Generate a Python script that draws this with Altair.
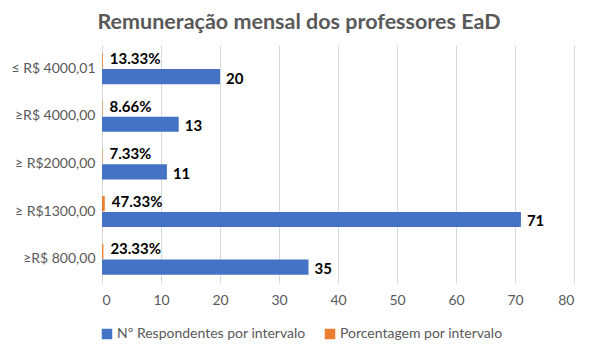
import altair as alt
import pandas as pd

categories = ["≤ R$ 4000,01", "≥R$ 4000,00", "≥ R$2000,00", "≥ R$1300,00", "≥R$ 800,00"]
respondentes = [20, 13, 11, 71, 35]
porcentagem = [0.1333, 0.0866, 0.0733, 0.4733, 0.2333]
series = ["Nº Respondentes por intervalo", "Porcentagem por intervalo"]
colors = ["#4472C4", "#ED7D31"]

rows = []
for c, r, p in zip(categories, respondentes, porcentagem):
    rows.append({"cat": c, "serie": series[0], "valor": r, "label": f"{r}"})
    rows.append({"cat": c, "serie": series[1], "valor": p, "label": f"{p*100:.2f}%"})
df = pd.DataFrame(rows)

FONT = "Lato"
GRAY = "#595959"

y = alt.Y("cat:N", sort=categories, title=None,
          scale=alt.Scale(paddingInner=0.35, paddingOuter=0.175),
          axis=alt.Axis(ticks=False, domain=False, labelFontSize=14, labelColor=GRAY,
                        labelFont=FONT, labelPadding=7))
yoff = alt.YOffset("serie:N", sort=[series[1], series[0]], scale=alt.Scale(paddingInner=0.04))
x = alt.X("valor:Q", title=None,
          scale=alt.Scale(domain=[0, 80]),
          axis=alt.Axis(values=list(range(0, 81, 10)), ticks=False, domain=False,
                        labelFontSize=14, labelColor=GRAY, labelFont=FONT, labelPadding=10,
                        gridColor="#D9D9D9", gridWidth=1))

bars = alt.Chart(df).mark_bar().encode(
    y=y, yOffset=yoff, x=x,
    color=alt.Color("serie:N", scale=alt.Scale(domain=series, range=colors),
                    legend=alt.Legend(title=None, orient="none", direction="horizontal",
                                      legendX=-2, legendY=282, symbolType="square",
                                      symbolSize=110, symbolStrokeWidth=0,
                                      labelFontSize=14, labelColor=GRAY, labelFont=FONT,
                                      labelLimit=400, columnPadding=17, labelOffset=3)),
)

base_txt = alt.Chart(df).encode(y=y, yOffset=yoff, x=x, text="label:N")
txt_blue = base_txt.transform_filter(alt.datum.serie == series[0]).mark_text(
    align="left", dx=6, dy=2, fontSize=15, fontWeight="bold", color="black", font=FONT)
txt_orange = base_txt.transform_filter(alt.datum.serie == series[1]).mark_text(
    align="left", dx=7, dy=-2, fontSize=15, fontWeight="bold", color="black", font=FONT)

chart = alt.layer(bars, txt_blue, txt_orange).properties(
    width=472, height=238,
    autosize=alt.AutoSizeParams(type="none"),
    padding={"left": 94, "top": 37, "right": 15, "bottom": 66},
    title=alt.TitleParams("Remuneração mensal dos professores EaD", anchor="middle",
                          frame="group", dx=-39, offset=12,
                          fontSize=21.5, fontWeight="bold", color=GRAY, font=FONT),
).configure_view(stroke=None)

chart.save("out.html", embed_options={"renderer": "svg", "actions": False})
